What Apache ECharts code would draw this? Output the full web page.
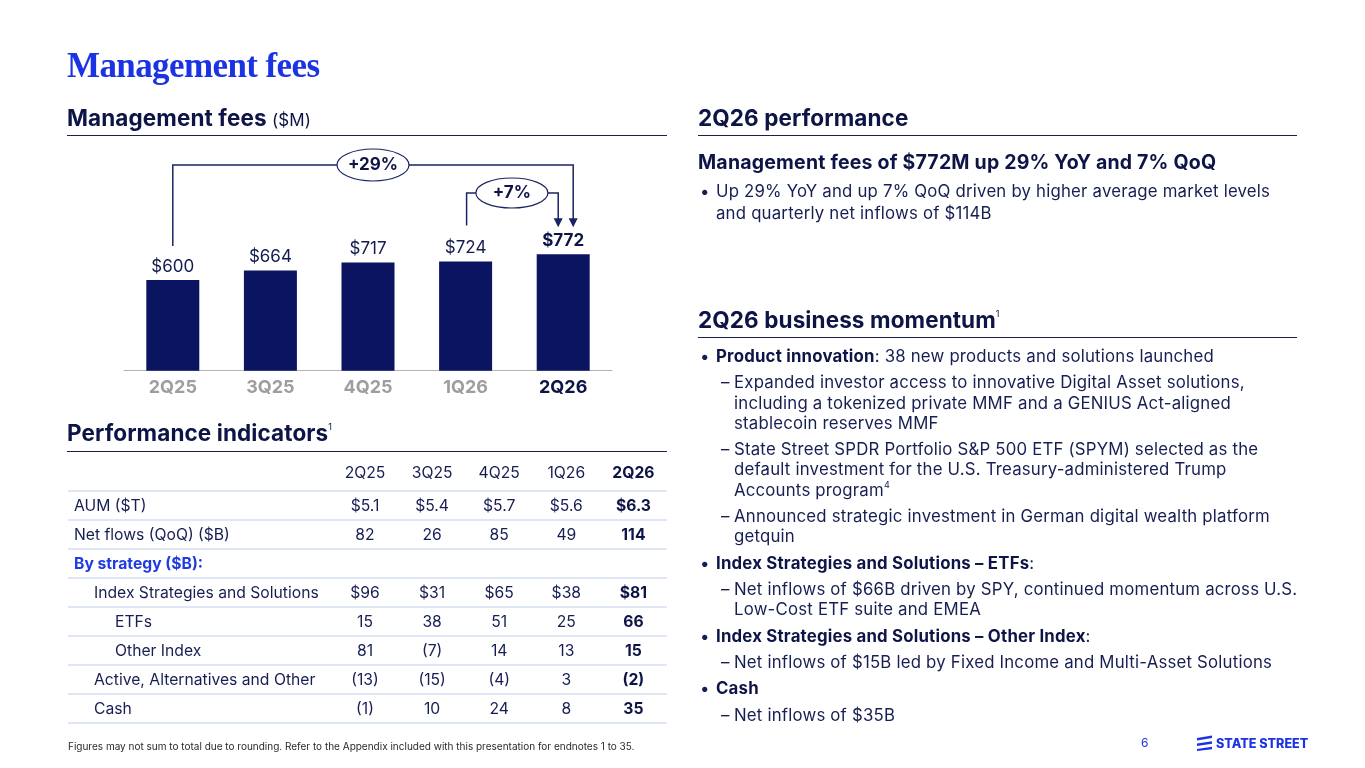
<!DOCTYPE html>
<html>
<head>
<meta charset="utf-8">
<script src="https://cdn.jsdelivr.net/npm/echarts@6/dist/echarts.min.js"></script>
<style>
  body { margin: 0; background: #fff; font-family: Inter, 'Noto Sans', sans-serif; color: #141c4f; }
  #slide { position: relative; width: 1365px; height: 768px; overflow: hidden; }
  #fees-chart { position: absolute; left: 0; top: 0; width: 1365px; height: 768px; }
  .abs { position: absolute; }
  .title { left: 67px; top: 46px; font-family: 'Liberation Serif', serif; font-weight: bold; font-size: 35px; letter-spacing: -0.6px; color: #1c33e3; white-space: nowrap; }
  .head { font-weight: 700; font-size: 22.5px; letter-spacing: 0.1px; color: #0d1446; white-space: nowrap; line-height: 24px; }
  .head small { font-weight: 400; font-size: 17px; }
  .head sup { font-weight: 400; font-size: 9px; position: relative; top: -11px; vertical-align: baseline; line-height: 0; }
  .rule { height: 1px; background: #1b2048; }
  .sub { font-weight: 700; font-size: 19.5px; letter-spacing: 0.2px; color: #0d1446; white-space: nowrap; }
  .txt { font-size: 16.8px; letter-spacing: 0.2px; line-height: 20.2px; color: #161e52; white-space: nowrap; }
  .txt .it { position: relative; padding-left: 36px; margin-top: 6.2px; }
  .txt .it.b { padding-left: 18px; }
  .txt .it:first-child { margin-top: 0; }
  .txt .it::before { position: absolute; left: 23px; content: '\2013'; }
  .txt .it.b::before { left: 2px; content: '\2022'; }
  .txt strong { color: #0d1446; }
  .txt sup { font-size: 9px; position: relative; top: -8px; vertical-align: baseline; line-height: 0; }
  table { border-collapse: collapse; font-size: 15.7px; color: #161e52; table-layout: fixed; }
  td { padding: 0; height: 27px; border-bottom: 2px solid #dfe7f5; text-align: center; white-space: nowrap; }
  td.lab { text-align: left; }
  tr.hdr td { height: 36px; padding-top: 0; }
  td.cur { font-weight: 700; color: #0d1446; }
  td.grp { color: #1f3be3; font-weight: 700; }
  .foot { left: 68px; top: 740px; font-size: 10px; color: #2a2a2a; white-space: nowrap; }
  .pg { left: 1141px; top: 735px; font-size: 12px; color: #1c33e3; }
  .logo { left: 1195px; top: 735px; color: #1c33e3; font-weight: 800; font-size: 12.6px; white-space: nowrap; display: flex; align-items: center; }
</style>
</head>
<body>
<div id="slide">
  <div id="fees-chart"></div>

  <div class="abs title">Management fees</div>

  <div class="abs head" style="left:67px; top:106px;">Management fees <small>($M)</small></div>
  <div class="abs rule" style="left:67px; top:135px; width:600px;"></div>

  <div class="abs head" style="left:67px; top:421px;">Performance indicators<sup>1</sup></div>
  <div class="abs rule" style="left:67px; top:451px; width:600px;"></div>
  <table class="abs" id="perf" style="left:68px; top:454px; width:599px;"></table>

  <div class="abs head" style="left:698px; top:106px;">2Q26 performance</div>
  <div class="abs rule" style="left:698px; top:135px; width:599px;"></div>
  <div class="abs sub" style="left:698px; top:150px;">Management fees of $772M up 29% YoY and 7% QoQ</div>
  <div class="abs txt" style="left:698px; top:180px; line-height:22px;">
    <div class="it b">Up 29% YoY and up 7% QoQ driven by higher average market levels<br>and quarterly net inflows of $114B</div>
  </div>

  <div class="abs head" style="left:698px; top:308px;">2Q26 business momentum<sup>1</sup></div>
  <div class="abs rule" style="left:698px; top:337px; width:599px;"></div>
  <div class="abs txt" style="left:698px; top:346px;">
    <div class="it b"><strong>Product innovation</strong>: 38 new products and solutions launched</div>
    <div class="it">Expanded investor access to innovative Digital Asset solutions,<br>including a tokenized private MMF and a GENIUS Act-aligned<br>stablecoin reserves MMF</div>
    <div class="it">State Street SPDR Portfolio S&amp;P 500 ETF (SPYM) selected as the<br>default investment for the U.S. Treasury-administered Trump<br>Accounts program<sup>4</sup></div>
    <div class="it">Announced strategic investment in German digital wealth platform<br>getquin</div>
    <div class="it b"><strong>Index Strategies and Solutions – ETFs</strong>:</div>
    <div class="it">Net inflows of $66B driven by SPY, continued momentum across U.S.<br>Low-Cost ETF suite and EMEA</div>
    <div class="it b"><strong>Index Strategies and Solutions – Other Index</strong>:</div>
    <div class="it">Net inflows of $15B led by Fixed Income and Multi-Asset Solutions</div>
    <div class="it b"><strong>Cash</strong></div>
    <div class="it">Net inflows of $35B</div>
  </div>

  <div class="abs foot">Figures may not sum to total due to rounding. Refer to the Appendix included with this presentation for endnotes 1 to 35.</div>
  <div class="abs pg">6</div>
  <div class="abs logo">
    <svg width="19" height="16" viewBox="0 0 19 16" style="margin-right:2px">
      <path d="M2 3 L17 0.5 L17 3 L2 5.5 Z M2 8.5 L17 6.3 L17 8.8 L2 11 Z M2 14 L17 11.8 L17 14.3 L2 16 Z" fill="#1c33e3"/>
    </svg>STATE STREET
  </div>
</div>

<script>
// bar chart data
const quarters = ['2Q25', '3Q25', '4Q25', '1Q26', '2Q26']
const mgmtFees = [600, 664, 717, 724, 772]
const yoyText = '+29%'
const qoqText = '+7%'

// performance indicators table
const aum = ['$5.1', '$5.4', '$5.7', '$5.6', '$6.3']
const netFlows = ['82', '26', '85', '49', '114']
const indexStrategies = ['$96', '$31', '$65', '$38', '$81']
const etfs = ['15', '38', '51', '25', '66']
const otherIndex = ['81', '(7)', '14', '13', '15']
const activeAlt = ['(13)', '(15)', '(4)', '3', '(2)']
const cashFlows = ['(1)', '10', '24', '8', '35']

const rows = [
  { label: 'AUM ($T)', indent: 6, vals: aum },
  { label: 'Net flows (QoQ) ($B)', indent: 6, vals: netFlows },
  { label: 'By strategy ($B):', indent: 6, group: true },
  { label: 'Index Strategies and Solutions', indent: 26, vals: indexStrategies },
  { label: 'ETFs', indent: 47, vals: etfs },
  { label: 'Other Index', indent: 47, vals: otherIndex },
  { label: 'Active, Alternatives and Other', indent: 26, vals: activeAlt },
  { label: 'Cash', indent: 26, vals: cashFlows }
]

// build the table
let html = '<colgroup><col style="width:263px">' + quarters.map(() => '<col style="width:67px">').join('') + '</colgroup>'
html += '<tr class="hdr"><td class="lab"></td>' + quarters.map((q, i) => '<td class="' + (i === 4 ? 'cur' : '') + '">' + q + '</td>').join('') + '</tr>'
rows.forEach(r => {
  html += '<tr><td class="lab' + (r.group ? ' grp' : '') + '" style="padding-left:' + r.indent + 'px">' + r.label + '</td>'
  quarters.forEach((q, i) => {
    const v = r.vals ? r.vals[i] : ''
    html += '<td class="' + (i === 4 ? 'cur' : '') + '">' + v + '</td>'
  })
  html += '</tr>'
})
document.getElementById('perf').innerHTML = html

const navy = '#0b1460'
const lineNavy = '#1b2462'
const myChart = echarts.init(document.getElementById('fees-chart'), null, { width: 1365, height: 768 })
const option = {
  animation: false,
  grid: { left: 124, right: 753, top: 219.7, bottom: 397.3 },
  xAxis: {
    type: 'category',
    data: quarters,
    axisLine: { lineStyle: { color: '#b4b4b4', width: 1 } },
    axisTick: { show: false },
    axisLabel: {
      margin: 8,
      formatter: (v, i) => (i === quarters.length - 1 ? '{cur|' + v + '}' : '{old|' + v + '}'),
      rich: {
        old: { fontFamily: 'Inter', fontSize: 18, fontWeight: 'bold', color: '#9e9e9e' },
        cur: { fontFamily: 'Inter', fontSize: 18, fontWeight: 'bold', color: '#0d1446' }
      }
    }
  },
  yAxis: { type: 'value', min: 0, max: 1000, show: false, splitLine: { show: false } },
  series: [
    {
      type: 'bar',
      barWidth: 53,
      itemStyle: { color: navy },
      label: {
        show: true,
        position: 'top',
        distance: 5,
        fontFamily: 'Inter',
        fontSize: 17,
        color: '#141c4f',
        formatter: p => '$' + p.value
      },
      data: mgmtFees.map((v, i) => i === mgmtFees.length - 1
        ? { value: v, label: { fontWeight: 'bold', color: '#0d1446' } }
        : v)
    }
  ]
}
myChart.setOption(option)

// growth brackets, anchored on the bars
const px = i => myChart.convertToPixel({ seriesIndex: 0 }, [i, mgmtFees[i]])
const first = px(0)
const prev = px(3)
const last = px(4)
const yoyY = 165
const qoqY = 193
const tipY = last[1] - 27
const yoyX = last[0] + 10
const qoqX = last[0] - 5

function arrowHead (x, y) {
  return { type: 'polygon', shape: { points: [[x - 4.5, y - 9], [x + 4.5, y - 9], [x, y]] }, style: { fill: lineNavy } }
}
function bubble (cx, cy, text, ry) {
  return [
    { type: 'ellipse', shape: { cx: cx, cy: cy, rx: 36, ry: ry }, style: { fill: '#fff', stroke: lineNavy, lineWidth: 1.2 } },
    { type: 'text', style: { text: text, x: cx, y: cy, align: 'center', verticalAlign: 'middle', font: 'bold 17px Inter', fill: '#0d1446' } }
  ]
}

myChart.setOption({
  graphic: [
    { type: 'polyline', shape: { points: [[first[0], first[1] - 34], [first[0], yoyY], [yoyX, yoyY], [yoyX, tipY - 8]] }, style: { stroke: lineNavy, lineWidth: 1.5, fill: null } },
    arrowHead(yoyX, tipY),
    { type: 'polyline', shape: { points: [[prev[0] + 1, prev[1] - 36], [prev[0] + 1, qoqY], [qoqX, qoqY], [qoqX, tipY - 8]] }, style: { stroke: lineNavy, lineWidth: 1.5, fill: null } },
    arrowHead(qoqX, tipY),
    ...bubble((first[0] + yoyX) / 2, yoyY, yoyText, 16),
    ...bubble((prev[0] + qoqX) / 2, qoqY, qoqText, 15)
  ]
})
</script>
</body>
</html>
